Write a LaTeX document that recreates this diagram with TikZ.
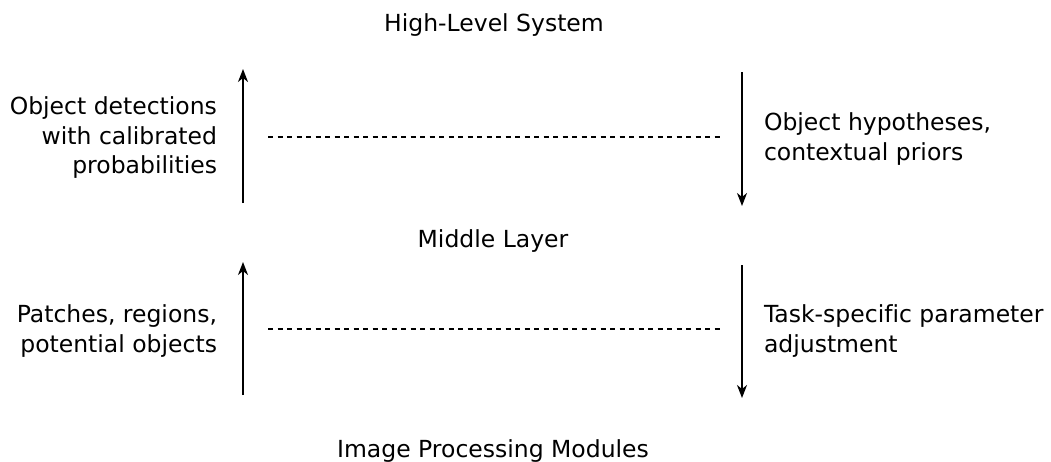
\documentclass[tikz,border=0pt]{standalone}
\usepackage{fontspec}
\setmainfont[Ligatures=NoCommon]{DejaVu Sans}
\usetikzlibrary{arrows.meta}
\begin{document}
\begin{tikzpicture}[x=1pt,y=-1pt,
  every node/.style={inner sep=0pt,outer sep=0pt,font=\fontsize{23.5}{29.5}\selectfont},
  level/.style={anchor=base},
  lefttext/.style={anchor=east,align=right},
  righttext/.style={anchor=west,align=left},
  flow/.style={line width=1.7pt,-{Stealth[length=13pt,width=10pt,inset=4pt]}},
  link/.style={line width=1.3pt,dash pattern=on 5pt off 4.5pt}]
\useasboundingbox (0,0) rectangle (1051,461);

% levels of the hierarchy
\node[level] (high) at (494,31) {High-Level System};
\node[level] (mid) at (493,247) {Middle Layer};
\node[level] (low) at (493,457) {Image Processing Modules};

% upper stage
\coordinate (u1s) at (243,203);
\coordinate (u1e) at (243,69);
\coordinate (d1s) at (742,72);
\coordinate (d1e) at (742,206);
\coordinate (l1a) at (268,137);
\coordinate (l1b) at (721,137);
\draw[flow] (u1s) -- (u1e);
\draw[flow] (d1s) -- (d1e);
\draw[link] (l1a) -- (l1b);
\node[lefttext] (up1) at (217,138) {Object detections\\with calibrated\\probabilities};
\node[righttext] (dn1) at (764,139) {Object hypotheses,\\contextual priors};

% lower stage
\coordinate (u2s) at (243,395);
\coordinate (u2e) at (243,262);
\coordinate (d2s) at (742,265);
\coordinate (d2e) at (742,398);
\coordinate (l2a) at (268,329);
\coordinate (l2b) at (721,329);
\draw[flow] (u2s) -- (u2e);
\draw[flow] (d2s) -- (d2e);
\draw[link] (l2a) -- (l2b);
\node[lefttext] (up2) at (217,331) {Patches, regions,\\potential objects};
\node[righttext] (dn2) at (764,331) {Task-specific parameter\\adjustment};
\end{tikzpicture}
\end{document}
